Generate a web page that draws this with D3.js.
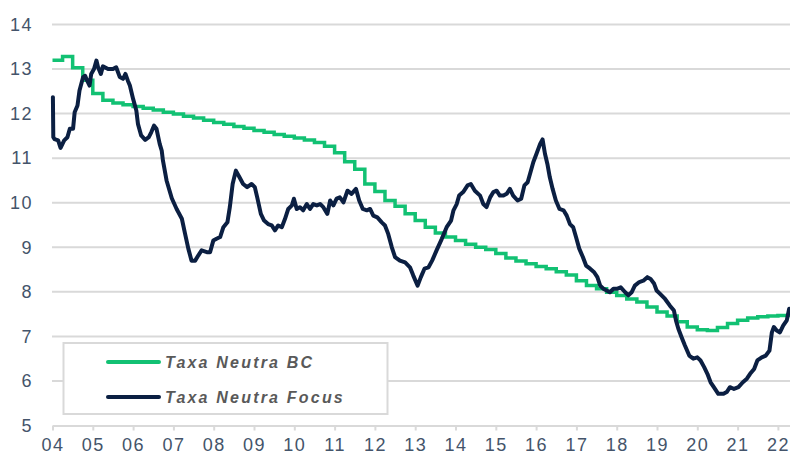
<!DOCTYPE html>
<html><head><meta charset="utf-8">
<script src="https://cdn.jsdelivr.net/npm/d3@7"></script>
<style>body{margin:0;background:#fff}svg{display:block}</style>
</head><body><svg id="c" width="790" height="454"></svg>
<script>
const yTicks = [5,6,7,8,9,10,11,12,13,14];
const xTickYears = [2004,2005,2006,2007,2008,2009,2010,2011,2012,2013,2014,2015,2016,2017,2018,2019,2020,2021,2022];
const xTickLabels = ["04","05","06","07","08","09","10","11","12","13","14","15","16","17","18","19","20","21","22"];
const seriesNames = ["Taxa Neutra BC","Taxa Neutra Focus"];
const seriesColors = ["#12c173","#0b1f42"];

// Taxa Neutra BC (quarterly steps)
const bcSeries = [
[2004.00,13.20],[2004.25,13.28],[2004.50,13.03],[2004.75,12.75],[2005.00,12.45],[2005.25,12.30],[2005.50,12.24],[2005.75,12.20],
[2006.00,12.16],[2006.25,12.12],[2006.50,12.08],[2006.75,12.03],[2007.00,11.99],[2007.25,11.94],[2007.50,11.90],[2007.75,11.85],
[2008.00,11.80],[2008.25,11.76],[2008.50,11.71],[2008.75,11.67],[2009.00,11.62],[2009.25,11.58],[2009.50,11.53],[2009.75,11.49],
[2010.00,11.45],[2010.25,11.41],[2010.50,11.35],[2010.75,11.27],[2011.00,11.12],[2011.25,10.92],[2011.50,10.75],[2011.75,10.42],
[2012.00,10.25],[2012.25,10.05],[2012.50,9.92],[2012.75,9.75],[2013.00,9.60],[2013.25,9.45],[2013.50,9.32],[2013.75,9.23],
[2014.00,9.15],[2014.25,9.07],[2014.50,9.00],[2014.75,8.95],[2015.00,8.86],[2015.25,8.76],[2015.50,8.69],[2015.75,8.63],
[2016.00,8.57],[2016.25,8.52],[2016.50,8.45],[2016.75,8.38],[2017.00,8.25],[2017.25,8.14],[2017.50,8.07],[2017.75,7.99],
[2018.00,7.92],[2018.25,7.84],[2018.50,7.77],[2018.75,7.66],[2019.00,7.55],[2019.25,7.46],[2019.50,7.33],[2019.75,7.21],
[2020.00,7.15],[2020.25,7.13],[2020.50,7.20],[2020.75,7.29],[2021.00,7.36],[2021.25,7.41],[2021.50,7.44],[2021.75,7.46],
[2022.00,7.47],[2022.25,7.48],[2022.30,7.48]
];

// Taxa Neutra Focus
const focusSeries = [
[2004.01,12.37],[2004.02,11.47],[2004.05,11.43],[2004.14,11.40],[2004.20,11.23],[2004.29,11.40],[2004.37,11.47],[2004.43,11.66],
[2004.51,11.66],[2004.55,12.03],[2004.62,12.18],[2004.67,12.52],[2004.76,12.82],[2004.81,12.85],[2004.86,12.74],[2004.92,12.63],
[2004.96,12.89],[2005.03,13.00],[2005.09,13.19],[2005.13,13.04],[2005.20,12.89],[2005.25,13.06],[2005.38,13.00],[2005.50,13.00],
[2005.58,13.04],[2005.67,12.82],[2005.75,12.78],[2005.81,12.89],[2005.87,12.74],[2005.92,12.63],[2006.00,12.33],[2006.08,12.07],
[2006.12,11.77],[2006.20,11.51],[2006.30,11.41],[2006.39,11.47],[2006.45,11.58],[2006.52,11.73],[2006.58,11.66],[2006.66,11.32],
[2006.71,11.17],[2006.74,10.95],[2006.83,10.50],[2006.96,10.10],[2007.08,9.86],[2007.21,9.64],[2007.29,9.30],[2007.37,8.97],
[2007.45,8.70],[2007.54,8.70],[2007.62,8.82],[2007.70,8.93],[2007.83,8.89],[2007.91,8.89],[2007.99,9.15],[2008.07,9.19],
[2008.16,9.23],[2008.24,9.45],[2008.34,9.56],[2008.40,9.90],[2008.47,10.42],[2008.55,10.72],[2008.64,10.57],[2008.73,10.42],
[2008.83,10.35],[2008.94,10.42],[2009.02,10.35],[2009.08,10.12],[2009.17,9.75],[2009.25,9.60],[2009.35,9.52],[2009.44,9.49],
[2009.52,9.38],[2009.60,9.49],[2009.69,9.45],[2009.77,9.64],[2009.85,9.86],[2009.94,9.94],[2009.99,10.09],[2010.06,9.86],
[2010.14,9.90],[2010.22,9.83],[2010.31,9.97],[2010.39,9.86],[2010.47,9.97],[2010.56,9.94],[2010.64,9.97],[2010.72,9.90],
[2010.82,9.75],[2010.89,10.05],[2010.97,9.94],[2011.05,10.09],[2011.13,10.12],[2011.22,10.01],[2011.32,10.27],[2011.42,10.20],
[2011.53,10.31],[2011.61,10.05],[2011.70,9.86],[2011.80,9.83],[2011.88,9.86],[2011.96,9.71],[2012.06,9.67],[2012.17,9.56],
[2012.25,9.49],[2012.33,9.30],[2012.42,9.00],[2012.50,8.78],[2012.62,8.70],[2012.75,8.66],[2012.87,8.55],[2012.95,8.37],
[2013.06,8.14],[2013.14,8.33],[2013.23,8.52],[2013.33,8.55],[2013.42,8.70],[2013.53,8.93],[2013.66,9.19],[2013.78,9.45],
[2013.89,9.60],[2013.95,9.83],[2014.03,9.97],[2014.09,10.16],[2014.19,10.24],[2014.30,10.39],[2014.38,10.42],[2014.48,10.27],
[2014.61,10.16],[2014.69,9.97],[2014.77,9.90],[2014.86,10.12],[2014.94,10.24],[2015.02,10.27],[2015.10,10.16],[2015.19,10.16],
[2015.27,10.20],[2015.35,10.31],[2015.43,10.16],[2015.54,10.05],[2015.63,10.09],[2015.71,10.39],[2015.79,10.46],[2015.85,10.65],
[2015.93,10.91],[2016.01,11.10],[2016.10,11.32],[2016.16,11.42],[2016.22,11.10],[2016.28,10.87],[2016.34,10.57],[2016.41,10.31],
[2016.49,10.05],[2016.58,9.86],[2016.68,9.83],[2016.76,9.71],[2016.84,9.52],[2016.92,9.45],[2016.99,9.23],[2017.07,8.97],
[2017.16,8.78],[2017.24,8.59],[2017.34,8.52],[2017.44,8.44],[2017.52,8.33],[2017.59,8.14],[2017.67,8.07],[2017.75,8.03],
[2017.83,7.99],[2017.92,8.07],[2018.02,8.07],[2018.10,8.10],[2018.21,7.99],[2018.29,7.92],[2018.37,7.99],[2018.45,8.14],
[2018.56,8.22],[2018.66,8.25],[2018.76,8.33],[2018.84,8.29],[2018.93,8.18],[2018.99,8.03],[2019.07,7.96],[2019.20,7.84],
[2019.32,7.69],[2019.42,7.58],[2019.47,7.36],[2019.53,7.17],[2019.61,6.98],[2019.69,6.80],[2019.80,6.57],[2019.90,6.50],
[2020.00,6.53],[2020.08,6.46],[2020.17,6.31],[2020.25,6.16],[2020.33,5.97],[2020.41,5.86],[2020.52,5.71],[2020.65,5.71],
[2020.73,5.75],[2020.81,5.86],[2020.91,5.82],[2021.02,5.86],[2021.13,5.97],[2021.23,6.05],[2021.31,6.16],[2021.41,6.27],
[2021.49,6.46],[2021.60,6.53],[2021.70,6.57],[2021.79,6.68],[2021.85,7.09],[2021.90,7.21],[2021.97,7.13],[2022.05,7.09],
[2022.13,7.24],[2022.22,7.36],[2022.28,7.62]
];

const svg = d3.select("#c");
const x = d3.scaleLinear().domain([2004, 2022.3]).range([52.5, 790]);
const y = d3.scaleLinear().domain([5, 14]).range([425.5, 24.5]);
const labelFont = "'Liberation Sans', Arial, sans-serif";

// gridlines
svg.append("g").selectAll("line").data(yTicks.slice(1)).join("line")
  .attr("x1", 52).attr("x2", 790)
  .attr("y1", d => y(d)).attr("y2", d => y(d))
  .attr("stroke", "#d9d9d9").attr("stroke-width", 2);

// x axis
const gx = svg.append("g").attr("transform", `translate(0,${y(5)})`)
  .call(d3.axisBottom(x).tickValues(xTickYears)
    .tickFormat((d, i) => xTickLabels[i]).tickSize(5).tickSizeOuter(0).tickPadding(8));
gx.select(".domain").attr("stroke", "#d9d9d9").attr("stroke-width", 2);
gx.selectAll(".tick line").attr("stroke", "#d9d9d9").attr("stroke-width", 2);
gx.selectAll("text").attr("fill", "#44546a").style("font-family", labelFont)
  .style("font-size", "18px").style("letter-spacing", "1.5px");

// y axis
const gy = svg.append("g").attr("transform", "translate(42,0)")
  .call(d3.axisLeft(y).tickValues(yTicks).tickSize(0).tickPadding(9));
gy.select(".domain").remove();
gy.selectAll("text").attr("fill", "#44546a").style("font-family", labelFont)
  .style("font-size", "18px").style("letter-spacing", "1.5px");

// lines
svg.append("path").datum(bcSeries)
  .attr("d", d3.line().x(d => x(d[0])).y(d => y(d[1])).curve(d3.curveStepAfter))
  .attr("fill", "none").attr("stroke", seriesColors[0]).attr("stroke-width", 3.5);
svg.append("path").datum(focusSeries)
  .attr("d", d3.line().x(d => x(d[0])).y(d => y(d[1])).curve(d3.curveLinear))
  .attr("fill", "none").attr("stroke", seriesColors[1]).attr("stroke-width", 4)
  .attr("stroke-linejoin", "round").attr("stroke-linecap", "round");

// legend
const lg = svg.append("g");
lg.append("rect").attr("x", 63.5).attr("y", 343).attr("width", 324).attr("height", 71)
  .attr("fill", "#fff").attr("stroke", "#d9d9d9").attr("stroke-width", 2);
seriesNames.forEach((name, i) => {
  const yy = 362 + i * 35;
  lg.append("line").attr("x1", 108).attr("x2", 159).attr("y1", yy).attr("y2", yy)
    .attr("stroke", seriesColors[i]).attr("stroke-width", 4).attr("stroke-linecap", "round");
  lg.append("text").attr("x", 165).attr("y", yy).attr("dy", "0.36em")
    .text(name).attr("fill", "#595959")
    .style("font-family", labelFont).style("font-size", "16px")
    .style("font-weight", "bold").style("font-style", "italic").style("letter-spacing", "2.2px");
});
</script>
</body></html>
